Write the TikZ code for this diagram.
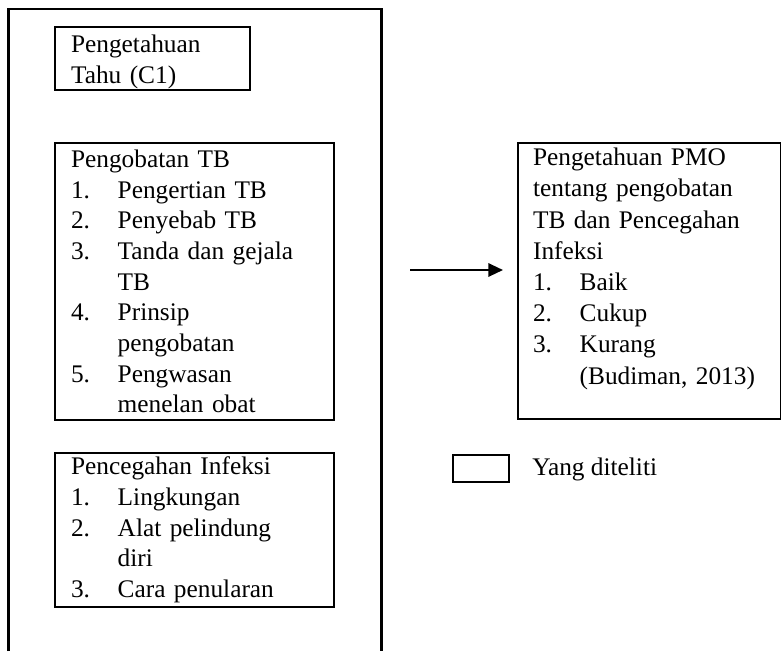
\documentclass[tikz,border=0pt]{standalone}
\usepackage{fontspec}
\setmainfont{Liberation Serif}
\usetikzlibrary{arrows.meta}
\newcommand{\nomor}[1]{\makebox[35pt][l]{#1}}
\newcommand{\lanjut}{\hspace*{35pt}}
\tikzset{kotak/.style={draw, line width=1.6pt, anchor=north west, align=left, inner xsep=12pt, inner ysep=3pt}}
\begin{document}
\begin{tikzpicture}[x=0.75pt, y=-0.75pt, >={Triangle[length=11pt,width=10pt]}, font=\fontsize{19pt}{23pt}\selectfont, line join=miter]
	\useasboundingbox (0,0) rectangle (781,651);
	% kerangka luar
	\draw[line width=1.6pt] (8.5,651)--(8.5,9)--(381.5,9)--(381.5,651);
	\node[kotak, text width=122.25pt, text height=16pt, text depth=25pt] (tahu) at (54,26) {Pengetahuan\\Tahu (C1)};
	\node[kotak, text width=185.25pt, minimum height=207.75pt] (obat) at (54,142)
		{Pengobatan TB\\
		\nomor{1.}Pengertian TB\\
		\nomor{2.}Penyebab TB\\
		\nomor{3.}Tanda dan gejala\\
		\lanjut TB\\
		\nomor{4.}Prinsip\\
		\lanjut pengobatan\\
		\nomor{5.}Pengwasan\\
		\lanjut menelan obat};
	\node[kotak, text width=185.25pt, minimum height=115.5pt] (cegah) at (54,452)
		{Pencegahan Infeksi\\
		\nomor{1.}Lingkungan\\
		\nomor{2.}Alat pelindung\\
		\lanjut diri\\
		\nomor{3.}Cara penularan};
	\node[kotak, inner xsep=11.25pt, text width=174.75pt, text height=14pt, text depth=187pt, font=\fontsize{19pt}{23.4pt}\selectfont] (pmo) at (517,142)
		{Pengetahuan PMO\\
		tentang pengobatan\\
		TB dan Pencegahan\\
		Infeksi\\
		\nomor{1.}Baik\\
		\nomor{2.}Cukup\\
		\nomor{3.}Kurang\\
		\lanjut (Budiman, 2013)};
	\coordinate (mulai) at (410,270);
	\draw[->, line width=1.6pt, shorten >=10.5pt] (mulai) -- (pmo.west |- mulai);
	% keterangan
	\node[draw, line width=1.6pt, anchor=north west, minimum width=42pt, minimum height=20.25pt] (legenda) at (452,454) {};
	\node[anchor=base west, inner sep=0pt] (teliti) at (532,475) {Yang diteliti};
\end{tikzpicture}
\end{document}
